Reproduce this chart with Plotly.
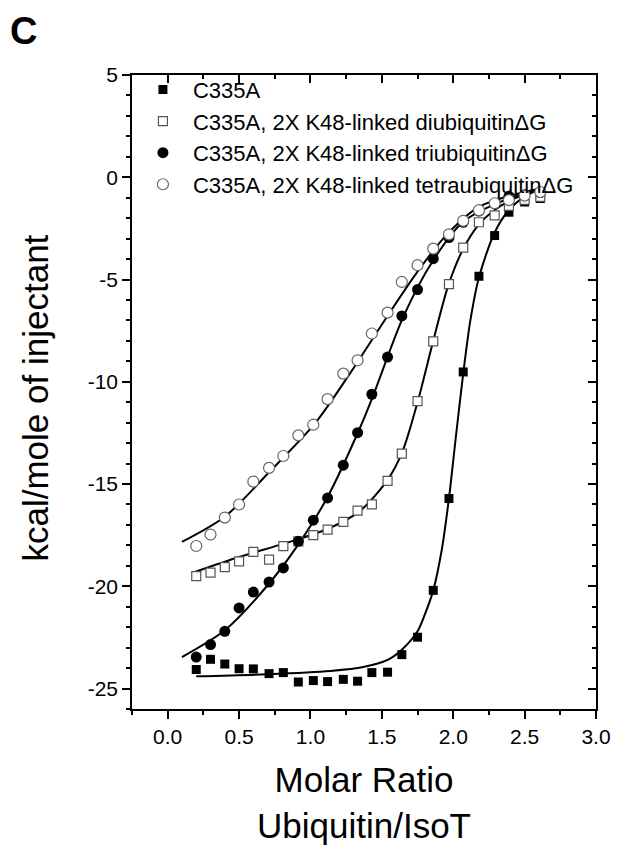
import plotly.graph_objects as go

# molar ratio of each injection (shared by the four titrations)
molar_ratio = [0.20, 0.30, 0.40, 0.50, 0.60, 0.71, 0.81, 0.915, 1.02, 1.12, 1.23, 1.33,
               1.43, 1.54, 1.64, 1.75, 1.86, 1.97, 2.07, 2.18, 2.29, 2.39, 2.50, 2.61]

# heats per injection (kcal/mole of injectant)
c335a = [-24.07, -23.57, -23.80, -24.03, -24.04, -24.27, -24.22, -24.68, -24.61, -24.66, -24.55, -24.64,
         -24.22, -24.20, -23.34, -22.49, -20.20, -15.71, -9.52, -4.84, -2.85, -1.71, -1.21, -1.04]
diub = [-19.50, -19.33, -19.06, -18.78, -18.32, -18.70, -18.04, -17.80, -17.50, -17.23, -16.85, -16.30,
        -15.99, -14.85, -13.51, -10.95, -8.02, -5.23, -3.44, -2.20, -1.86, -1.40, -1.10, -0.96]
triub = [-23.46, -22.85, -22.20, -21.06, -20.28, -19.79, -19.10, -17.80, -16.77, -15.68, -14.08, -12.49,
         -10.61, -8.79, -6.78, -5.49, -3.98, -2.95, -2.20, -1.65, -1.30, -0.93, -0.85, -0.75]
tetraub = [-18.03, -17.47, -16.64, -16.00, -14.88, -14.21, -13.63, -12.62, -12.10, -10.85, -9.60, -8.95,
           -7.64, -6.62, -5.12, -4.30, -3.49, -2.79, -2.13, -1.61, -1.27, -1.12, -0.90, -0.72]

# fitted curves
fit_c335a_x = [0.20, 0.70, 1.14, 1.37, 1.54, 1.64, 1.75, 1.80, 1.86, 1.92, 1.97, 2.02, 2.07, 2.12, 2.18, 2.29, 2.39, 2.50, 2.61]
fit_c335a_y = [-24.40, -24.30, -24.14, -23.95, -23.60, -23.10, -22.20, -21.40, -20.20, -18.20, -15.70, -12.60, -9.60, -7.00, -4.90, -2.70, -1.60, -0.95, -0.55]
fit_di_x = [0.19, 0.50, 0.82, 1.12, 1.35, 1.54, 1.645, 1.75, 1.86, 1.965, 2.07, 2.18, 2.29, 2.41, 2.61]
fit_di_y = [-19.30, -18.57, -17.90, -17.20, -16.30, -14.80, -13.40, -11.00, -8.00, -5.30, -3.50, -2.30, -1.60, -1.10, -0.55]
fit_tri_x = [0.10, 0.40, 0.70, 0.92, 1.12, 1.35, 1.44, 1.65, 1.86, 2.07, 2.30, 2.61]
fit_tri_y = [-23.46, -22.15, -19.95, -17.90, -15.63, -12.20, -10.66, -6.83, -4.06, -2.18, -1.29, -0.55]
fit_tetra_x = [0.10, 0.40, 0.70, 1.03, 1.257, 1.535, 1.74, 1.95, 2.18, 2.41, 2.61]
fit_tetra_y = [-17.83, -16.60, -14.50, -12.05, -9.80, -6.83, -4.71, -2.84, -1.45, -0.88, -0.55]

names = ["C335A",
         "C335A, 2X K48-linked diubiquitinΔG",
         "C335A, 2X K48-linked triubiquitinΔG",
         "C335A, 2X K48-linked tetraubiquitinΔG"]

# y tick labels with a plain hyphen, as in the original
y_tick_vals = [5, 0, -5, -10, -15, -20, -25]
y_tick_text = ["5", "0", "-5", "-10", "-15", "-20", "-25"]

FONT = "Liberation Sans, Arial, sans-serif"

fig = go.Figure()

# fit lines first, underneath the points
for fx, fy in [(fit_c335a_x, fit_c335a_y), (fit_di_x, fit_di_y),
               (fit_tri_x, fit_tri_y), (fit_tetra_x, fit_tetra_y)]:
    fig.add_trace(go.Scatter(x=fx, y=fy, mode="lines", showlegend=False, hoverinfo="skip",
                             line=dict(color="black", width=2, shape="spline", smoothing=0.8)))

markers = [
    dict(symbol="square", size=9, color="black", line=dict(width=0)),
    dict(symbol="square", size=9, color="white", line=dict(width=1.2, color="#555")),
    dict(symbol="circle", size=11, color="black", line=dict(width=0)),
    dict(symbol="circle", size=11, color="white", line=dict(width=1.2, color="#666")),
]
for name, ys, mk in zip(names, [c335a, diub, triub, tetraub], markers):
    fig.add_trace(go.Scatter(x=molar_ratio, y=ys, mode="markers", name=name, marker=mk))

# dummy trace so the mirrored top/right axes are drawn with inward ticks
fig.add_trace(go.Scatter(x=[None], y=[None], xaxis="x2", yaxis="y2", showlegend=False))

axis_common = dict(showgrid=False, zeroline=False, showline=True, linecolor="black", linewidth=1.5,
                   tickcolor="black", tickwidth=1.5)

fig.update_layout(
    width=615, height=837,
    margin=dict(l=124, r=20, t=67, b=136),
    paper_bgcolor="white", plot_bgcolor="white",
    font=dict(family=FONT, color="black"),
    xaxis=dict(range=[-0.25, 3.0], dtick=0.5, tick0=0, ticks="outside", ticklen=8,
               tickformat=".1f", tickfont=dict(size=21),
               minor=dict(dtick=0.25, tick0=0, ticks="outside", ticklen=4, tickcolor="black", tickwidth=1.5),
               **axis_common),
    yaxis=dict(range=[-26, 5], tickmode="array", tickvals=y_tick_vals, ticktext=y_tick_text,
               ticks="outside", ticklen=8, tickfont=dict(size=21),
               minor=dict(dtick=1, tick0=0, ticks="outside", ticklen=4, tickcolor="black", tickwidth=1.5),
               **axis_common),
    xaxis2=dict(range=[-0.25, 3.0], overlaying="x", side="top", anchor="y", dtick=0.5, tick0=0,
                ticks="inside", ticklen=8, showticklabels=False,
                minor=dict(dtick=0.25, tick0=0, ticks="inside", ticklen=4, tickcolor="black", tickwidth=1.5),
                **axis_common),
    yaxis2=dict(range=[-26, 5], overlaying="y", side="right", anchor="x", dtick=5, tick0=0,
                ticks="inside", ticklen=8, showticklabels=False,
                minor=dict(dtick=1, tick0=0, ticks="inside", ticklen=4, tickcolor="black", tickwidth=1.5),
                **axis_common),
    legend=dict(x=0.002, y=1.01, xanchor="left", yanchor="top", bgcolor="rgba(0,0,0,0)",
                font=dict(size=22, family=FONT), tracegroupgap=0, itemwidth=50),
    annotations=[
        dict(text="Molar Ratio<br>Ubiquitin/IsoT", x=0.5, y=-0.1475, xref="paper", yref="paper",
             xanchor="center", yanchor="middle", showarrow=False, font=dict(size=35)),
        dict(text="kcal/mole of injectant", x=-0.208, y=0.4905, xref="paper", yref="paper",
             xanchor="center", yanchor="middle", textangle=-90, showarrow=False, font=dict(size=35)),
        dict(text="<b>C</b>", x=-0.2335, y=1.0694, xref="paper", yref="paper",
             xanchor="center", yanchor="middle", showarrow=False, font=dict(size=38)),
    ],
)

fig.write_html("out.html")
